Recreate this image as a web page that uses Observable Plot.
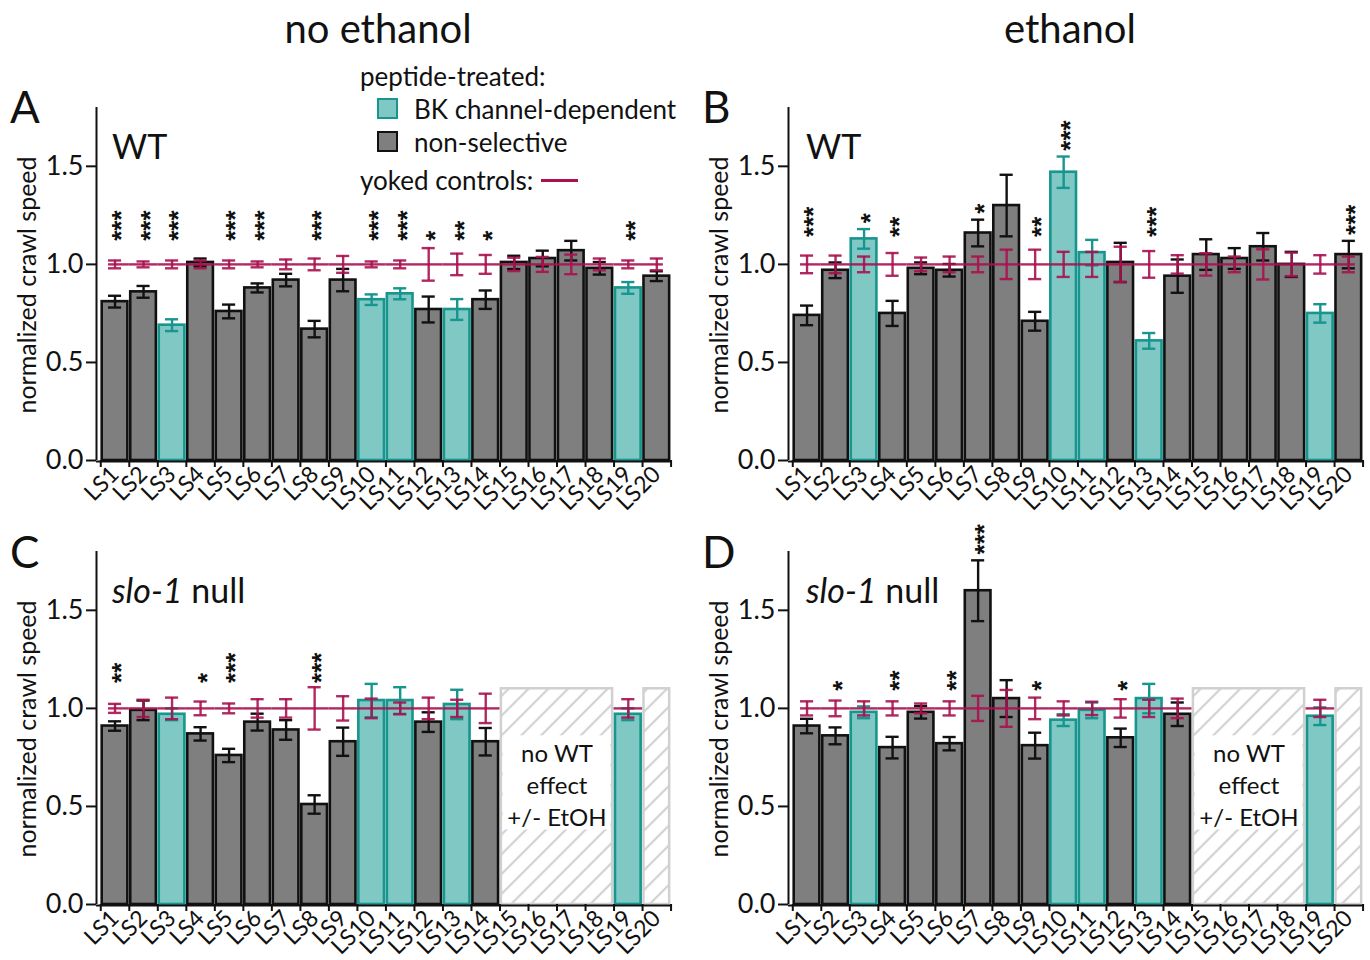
<!DOCTYPE html>
<html><head><meta charset="utf-8">
<script src="https://cdn.jsdelivr.net/npm/d3@7"></script>
<script src="https://cdn.jsdelivr.net/npm/@observablehq/plot@0.6"></script>
<style>
body{margin:0;background:#fff;font-family:Lato,"Noto Sans",sans-serif;}
#root{position:relative;width:1370px;height:960px;overflow:hidden;background:#fff}
.abs{position:absolute;white-space:nowrap;color:#111;line-height:1}
.plotwrap{position:absolute}
.cy{transform:translateY(-50%)}
.cxy{transform:translate(-50%,-50%)}
.rot{transform:translate(-50%,-50%) rotate(-90deg)}
</style></head><body>
<svg width="0" height="0" style="position:absolute">
  <defs>
    <pattern id="hatch" patternUnits="userSpaceOnUse" width="14" height="14" patternTransform="rotate(45)">
      <rect width="14" height="14" fill="white"/>
      <line x1="3" y1="0" x2="3" y2="14" stroke="#d2d2d2" stroke-width="2.2"/>
    </pattern>
  </defs>
</svg>
<div id="root"></div>
<script>
// ---------------- data ----------------
const labels = ["LS1","LS2","LS3","LS4","LS5","LS6","LS7","LS8","LS9","LS10","LS11","LS12","LS13","LS14","LS15","LS16","LS17","LS18","LS19","LS20"];
// 1 = BK channel-dependent peptide, 0 = non-selective
const bkDependent = [0,0,1,0,0,0,0,0,0,1,1,0,1,0,0,0,0,0,1,0];
const yTicks = [0, 0.5, 1.0, 1.5];
const controlMean = 1.0;

// A: WT, no ethanol
const aMean    = [0.81,0.86,0.69,1.01,0.76,0.88,0.92,0.67,0.92,0.82,0.85,0.77,0.77,0.82,1.01,1.03,1.07,0.98,0.88,0.94];
const aErr     = [0.03,0.03,0.03,0.02,0.035,0.023,0.032,0.042,0.057,0.027,0.028,0.066,0.053,0.047,0.034,0.04,0.05,0.032,0.03,0.025];
const aCtrlErr = [0.02,0.015,0.02,0.02,0.02,0.015,0.025,0.03,0.043,0.015,0.02,0.083,0.055,0.048,0.034,0.038,0.05,0.03,0.02,0.03];
const aSig     = ["***","***","***","","***","***","","***","","***","***","*","**","*","","","","","**",""];

// B: WT, ethanol
const bMean    = [0.74,0.97,1.13,0.75,0.98,0.97,1.16,1.30,0.71,1.47,1.06,1.01,0.61,0.94,1.05,1.03,1.09,1.00,0.75,1.05];
const bErr     = [0.05,0.04,0.05,0.064,0.03,0.032,0.068,0.157,0.048,0.08,0.065,0.1,0.04,0.085,0.078,0.053,0.07,0.064,0.047,0.07];
const bCtrlErr = [0.045,0.045,0.04,0.058,0.035,0.04,0.04,0.075,0.075,0.064,0.064,0.09,0.068,0.047,0.057,0.04,0.077,0.06,0.047,0.04];
const bSig     = ["***","","*","**","","","*","","**","***","","","***","","","","","","","***"];

// C: slo-1 null, no ethanol (null = not tested)
const cMean    = [0.91,0.99,0.97,0.87,0.76,0.93,0.89,0.51,0.83,1.04,1.04,0.93,1.02,0.83,null,null,null,null,0.97,null];
const cErr     = [0.024,0.05,0.03,0.034,0.034,0.043,0.05,0.047,0.072,0.085,0.068,0.05,0.075,0.07,null,null,null,null,0.03,null];
const cCtrlErr = [0.023,0.044,0.055,0.035,0.025,0.047,0.047,0.108,0.062,0.05,0.03,0.055,0.044,0.075,null,null,null,null,0.047,null];
const cSig     = ["**","","","*","***","","","***","","","","","","","","","","","",""];

// D: slo-1 null, ethanol
const dMean    = [0.91,0.86,0.98,0.80,0.98,0.82,1.60,1.05,0.81,0.94,0.99,0.85,1.05,0.97,null,null,null,null,0.96,null];
const dErr     = [0.037,0.043,0.03,0.055,0.032,0.034,0.155,0.094,0.066,0.03,0.04,0.047,0.075,0.06,null,null,null,null,0.045,null];
const dCtrlErr = [0.036,0.04,0.036,0.036,0.025,0.036,0.064,0.094,0.055,0.036,0.034,0.047,0.044,0.05,null,null,null,null,0.044,null];
const dSig     = ["","*","","**","","**","***","","*","","","*","","","","","","","",""];

// ---------------- styles ----------------
const GRAY = "#7f7f7f", BLACK = "#111111", TEAL = "#80c8c4", TEAL_DARK = "#17958f", MAGENTA = "#a8124f";
const FONT = "Lato, 'Noto Sans', sans-serif";

const panels = [
  {mean:aMean, err:aErr, ctrl:aCtrlErr, sig:aSig, base:1.12, left:0,   top:0,   width:685, height:520, mt:107, mb:60, mr:13},
  {mean:bMean, err:bErr, ctrl:bCtrlErr, sig:bSig, base:1.14, left:692, top:0,   width:678, height:520, mt:107, mb:60, mr:6},
  {mean:cMean, err:cErr, ctrl:cCtrlErr, sig:cSig, base:1.13, left:0,   top:520, width:685, height:440, mt:31,  mb:56, mr:13},
  {mean:dMean, err:dErr, ctrl:dCtrlErr, sig:dSig, base:1.09, left:692, top:520, width:678, height:440, mt:31,  mb:56, mr:6}
];

const root = document.getElementById("root");
const N = labels.length;
const X0 = 0.35, X1 = N + 0.55;

function makePanel(p) {
  const rows = labels.map((lab, k) => ({i: k + 1, lab, v: p.mean[k], e: p.err[k], ce: p.ctrl[k], bk: bkDependent[k] === 1, sig: p.sig[k]}));
  const present = rows.filter(d => d.v != null);
  // runs of untested lines
  const runs = [];
  rows.forEach(d => {
    if (d.v == null) {
      const last = runs[runs.length - 1];
      if (last && last.b === d.i - 1) last.b = d.i; else runs.push({a: d.i, b: d.i});
    }
  });
  const textRuns = runs.filter(r => r.b > r.a);
  const barStroke = d => d.bk ? TEAL_DARK : BLACK;
  const segX1 = d => d.i === 1 ? d.i - 0.23 : d.i - 0.5;
  const segX2 = d => d.i === N ? d.i + 0.23 : d.i + 0.5;
  const starY = d => Math.max(p.base, d.v + d.e + 0.03);

  return Plot.plot({
    width: p.width, height: p.height,
    marginLeft: 96, marginRight: p.mr, marginTop: p.mt, marginBottom: p.mb,
    style: {background: "transparent", overflow: "visible", fontFamily: FONT, color: BLACK},
    x: {domain: [X0, X1]},
    y: {domain: [0, 1.8]},
    color: {type: "identity"},
    marks: [
      // untested (hatched) boxes
      Plot.rect(runs, {x1: d => d.a - 0.45, x2: d => d.b + 0.45, y1: 0, y2: 1.1, fill: "url(#hatch)", stroke: "#d0d0d0", strokeWidth: 2.5}),
      Plot.rect(textRuns, {x1: d => d.a - 0.45 + 0.06, x2: d => d.b + 0.45 - 0.06, y1: 0.38, y2: 0.86, fill: "white"}),
      Plot.text(textRuns, {x: d => (d.a + d.b) / 2, y: 0.615, text: () => "no WT\neffect\n+/- EtOH", fontSize: 24, lineHeight: 1.32, fill: BLACK}),
      // bars
      Plot.rect(present, {x1: d => d.i - 0.45, x2: d => d.i + 0.45, y1: 0, y2: "v", fill: d => d.bk ? TEAL : GRAY, stroke: barStroke, strokeWidth: 2.6}),
      // bar error bars
      Plot.ruleX(present, {x: "i", y1: d => d.v - d.e, y2: d => d.v + d.e, stroke: barStroke, strokeWidth: 2.4}),
      Plot.ruleY(present, {y: d => d.v + d.e, x1: d => d.i - 0.23, x2: d => d.i + 0.23, stroke: barStroke, strokeWidth: 2.4}),
      Plot.ruleY(present, {y: d => d.v - d.e, x1: d => d.i - 0.23, x2: d => d.i + 0.23, stroke: barStroke, strokeWidth: 2.4}),
      // yoked controls
      Plot.ruleY(present, {y: () => controlMean, x1: segX1, x2: segX2, stroke: MAGENTA, strokeWidth: 2.4, strokeOpacity: 0.9}),
      Plot.ruleX(present, {x: "i", y1: d => controlMean - d.ce, y2: d => controlMean + d.ce, stroke: MAGENTA, strokeWidth: 2.4, strokeOpacity: 0.9}),
      Plot.ruleY(present, {y: d => controlMean + d.ce, x1: d => d.i - 0.23, x2: d => d.i + 0.23, stroke: MAGENTA, strokeWidth: 2.4, strokeOpacity: 0.9}),
      Plot.ruleY(present, {y: d => controlMean - d.ce, x1: d => d.i - 0.23, x2: d => d.i + 0.23, stroke: MAGENTA, strokeWidth: 2.4, strokeOpacity: 0.9}),
      // significance stars
      Plot.text(present.filter(d => d.sig), {x: "i", y: starY, text: "sig", rotate: -90, textAnchor: "start", lineAnchor: "middle", fontSize: 26, fontWeight: "bold", fontFamily: "Liberation Sans", dx: 7, fill: BLACK}),
      // axes
      Plot.ruleX([X0], {y1: 0, y2: 1.8, stroke: BLACK, strokeWidth: 2}),
      Plot.ruleY([0], {stroke: BLACK, strokeWidth: 2, dy: 1}),
      Plot.axisY({ticks: yTicks, tickFormat: d3.format(".1f"), tickSize: 10, tickPadding: 3, fontSize: 27, label: null, strokeWidth: 2}),
      Plot.axisX({ticks: d3.range(0.5, N + 0.51, 1), tickFormat: () => "", tickSize: 7, label: null, strokeWidth: 2}),
      Plot.axisX({ticks: d3.range(1, N + 1), tickFormat: i => labels[i - 1], tickSize: 0, tickPadding: 10, tickRotate: -45, textAnchor: "end", fontSize: 23, label: null})
    ]
  });
}

panels.forEach(p => {
  const w = document.createElement("div");
  w.className = "plotwrap";
  w.style.left = p.left + "px";
  w.style.top = p.top + "px";
  w.appendChild(makePanel(p));
  root.appendChild(w);
});

// ---------------- titles, labels, legend ----------------
function addText(html, left, top, size, cls, extra) {
  const d = document.createElement("div");
  d.className = "abs " + (cls || "");
  d.style.left = left + "px";
  d.style.top = top + "px";
  d.style.fontSize = size + "px";
  if (extra) Object.assign(d.style, extra);
  d.innerHTML = html;
  root.appendChild(d);
  return d;
}
addText("no ethanol", 378, 28, 40, "cxy");
addText("ethanol", 1070, 28, 40, "cxy");
addText("A", 10, 106, 44, "cy");
addText("B", 702, 106, 44, "cy");
addText("C", 10, 551, 44, "cy");
addText("D", 702, 551, 44, "cy");
addText("WT", 112, 146, 34, "cy");
addText("WT", 806, 146, 34, "cy");
addText("<i>slo-1</i> null", 112, 590, 34, "cy");
addText("<i>slo-1</i> null", 806, 590, 34, "cy");
[[26,285],[718,285],[26,729],[718,729]].forEach(([x,y]) => addText("normalized crawl speed", x, y, 25, "rot"));

// legend
addText("peptide-treated:", 360, 76, 26, "cy");
addText("", 377, 98, 10, "", {width:"17px", height:"17px", background:TEAL, border:"2.5px solid " + TEAL_DARK});
addText("", 377, 131, 10, "", {width:"17px", height:"17px", background:GRAY, border:"2.5px solid " + BLACK});
addText("BK channel-dependent", 414, 109, 26, "cy");
addText("non-selective", 414, 142, 26, "cy");
addText("yoked controls:", 360, 180, 26, "cy");
addText("", 541, 179, 10, "", {width:"37px", height:"3px", background:MAGENTA});
</script>
</body></html>
